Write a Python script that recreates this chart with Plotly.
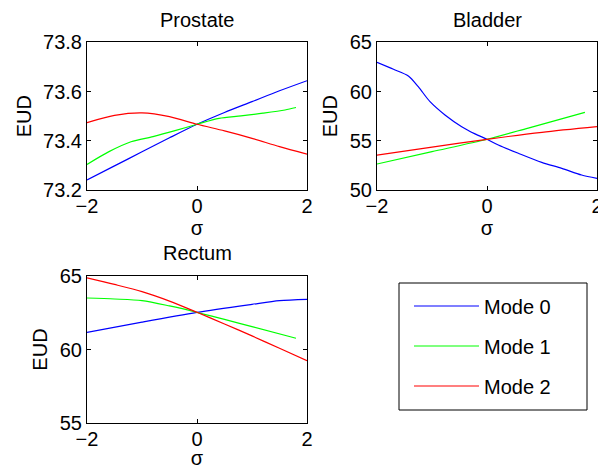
import plotly.graph_objects as go

# ---------------- data ----------------
modes = ["Mode 0", "Mode 1", "Mode 2"]
colors = ["#0000ff", "#00ff00", "#ff0000"]

# Prostate
pro_x0 = [-2, -1.5, -1, -0.5, 0, 0.5, 1, 1.5, 2]
pro_y0 = [73.241, 73.298, 73.355, 73.412, 73.467, 73.515, 73.559, 73.603, 73.644]
pro_x1 = [-2, -1.6, -1.2, -0.8, -0.4, 0, 0.4, 0.8, 1.2, 1.6, 1.8]
pro_y1 = [73.304, 73.356, 73.396, 73.417, 73.441, 73.467, 73.491, 73.501, 73.512, 73.525, 73.535]
pro_x2 = [-2, -1.5, -1, -0.5, 0, 0.5, 1, 1.5, 2]
pro_y2 = [73.474, 73.503, 73.513, 73.498, 73.467, 73.44, 73.41, 73.376, 73.346]

# Bladder
bla_x0 = [-2, -1.7, -1.43, -1.25, -1.036, -0.764, -0.46, -0.218, 0, 0.206, 0.57, 0.995, 1.36, 1.72, 2]
bla_y0 = [62.97, 62.26, 61.58, 60.49, 58.97, 57.62, 56.43, 55.70, 55.15, 54.57, 53.73, 52.81, 52.20, 51.52, 51.18]
bla_x1 = [-2, -1, 0, 0.75, 1.78]
bla_y1 = [52.64, 53.89, 55.15, 56.29, 57.89]
bla_x2 = [-2, -1, 0, 1, 2]
bla_y2 = [53.54, 54.35, 55.15, 55.86, 56.43]

# Rectum
rec_x0 = [-2, -1, 0, 1, 1.5, 2]
rec_y0 = [61.16, 61.86, 62.52, 63.06, 63.31, 63.40]
rec_x1 = [-2, -1.5, -1, -0.5, 0, 0.5, 1, 1.8]
rec_y1 = [63.49, 63.42, 63.31, 62.95, 62.52, 62.04, 61.55, 60.76]
rec_x2 = [-2, -1.5, -1, -0.5, 0, 0.5, 1, 1.5, 2]
rec_y2 = [64.86, 64.41, 63.92, 63.28, 62.52, 61.73, 60.92, 60.08, 59.24]

titles = ["Prostate", "Bladder", "Rectum"]
x_ticks = [-2, 0, 2]
pro_ticks = [73.2, 73.4, 73.6, 73.8]
bla_ticks = [50, 55, 60, 65]
rec_ticks = [55, 60, 65]

# ---------------- figure ----------------
W, H = 598, 469
FONT = "Liberation Sans, Arial, Helvetica, sans-serif"
FS = 20

fig = go.Figure()

legend_ids = ["legend", "legend2", "legend3"]

panels = [
    ("x", "y", [(pro_x0, pro_y0), (pro_x1, pro_y1), (pro_x2, pro_y2)]),
    ("x2", "y2", [(bla_x0, bla_y0), (bla_x1, bla_y1), (bla_x2, bla_y2)]),
    ("x3", "y3", [(rec_x0, rec_y0), (rec_x1, rec_y1), (rec_x2, rec_y2)]),
]
for p, (xa, ya, series) in enumerate(panels):
    for m, (xs, ys) in enumerate(series):
        fig.add_trace(go.Scatter(
            x=xs, y=ys, mode="lines", name=modes[m],
            line=dict(color=colors[m], width=1.2, shape="spline", smoothing=0.8),
            xaxis=xa, yaxis=ya,
            legend=legend_ids[m],
            showlegend=(p == 0),
        ))

def px_x(v):
    return v / W

def px_y(v):
    return 1 - v / H

def xaxis(dom, anchor):
    return dict(domain=dom, anchor=anchor, range=[-2, 2], tickvals=x_ticks,
                ticks="inside", ticklen=4, tickcolor="black", tickwidth=1,
                showline=True, linecolor="black", linewidth=1, mirror="ticks",
                showgrid=False, zeroline=False, automargin=False,
                ticklabeloverflow="allow", ticklabelstandoff=-2,
                tickfont=dict(family=FONT, size=FS, color="black"),
                title=dict(text="σ", font=dict(family=FONT, size=FS, color="black"), standoff=0))

def yaxis(dom, anchor, rng, tv):
    return dict(domain=dom, anchor=anchor, range=rng, tickvals=tv,
                ticks="inside", ticklen=4, tickcolor="black", tickwidth=1,
                showline=True, linecolor="black", linewidth=1, mirror="ticks",
                showgrid=False, zeroline=False, automargin=False,
                ticklabeloverflow="allow",
                tickfont=dict(family=FONT, size=FS, color="black"),
                title=dict(text="EUD", font=dict(family=FONT, size=FS, color="black"), standoff=6))

left_dom = [px_x(87), px_x(307)]
right_dom = [px_x(377), px_x(597)]
top_dom = [px_y(190), px_y(42.3)]
bot_dom = [px_y(423.3), px_y(275.7)]

def legend_at(row_y):
    return dict(x=px_x(409), y=px_y(row_y), xanchor="left", yanchor="middle",
                bgcolor="rgba(0,0,0,0)", borderwidth=0, itemwidth=65,
                font=dict(family=FONT, size=FS, color="black"))

fig.update_layout(
    template="none",
    width=W, height=H,
    margin=dict(l=0, r=0, t=0, b=0),
    paper_bgcolor="white", plot_bgcolor="white",
    font=dict(family=FONT, size=FS, color="black"),
    xaxis=xaxis(left_dom, "y"),
    yaxis=yaxis(top_dom, "x", [73.2, 73.8], pro_ticks),
    xaxis2=xaxis(right_dom, "y2"),
    yaxis2=yaxis(top_dom, "x2", [50, 65], bla_ticks),
    xaxis3=xaxis(left_dom, "y3"),
    yaxis3=yaxis(bot_dom, "x3", [55, 65], rec_ticks),
    showlegend=True,
    legend=legend_at(306),
    legend2=legend_at(346),
    legend3=legend_at(386),
    shapes=[dict(type="rect", xref="paper", yref="paper",
                 x0=px_x(399), x1=px_x(587), y0=px_y(410), y1=px_y(283),
                 line=dict(color="black", width=1))],
)

centers = [(197, 20), (487, 20), (197, 253)]
for t, (cx, cy) in zip(titles, centers):
    fig.add_annotation(text=t, x=px_x(cx), y=px_y(cy), xref="paper", yref="paper",
                       showarrow=False, xanchor="center", yanchor="middle",
                       font=dict(family=FONT, size=FS, color="black"))

fig.write_html("out.html")
